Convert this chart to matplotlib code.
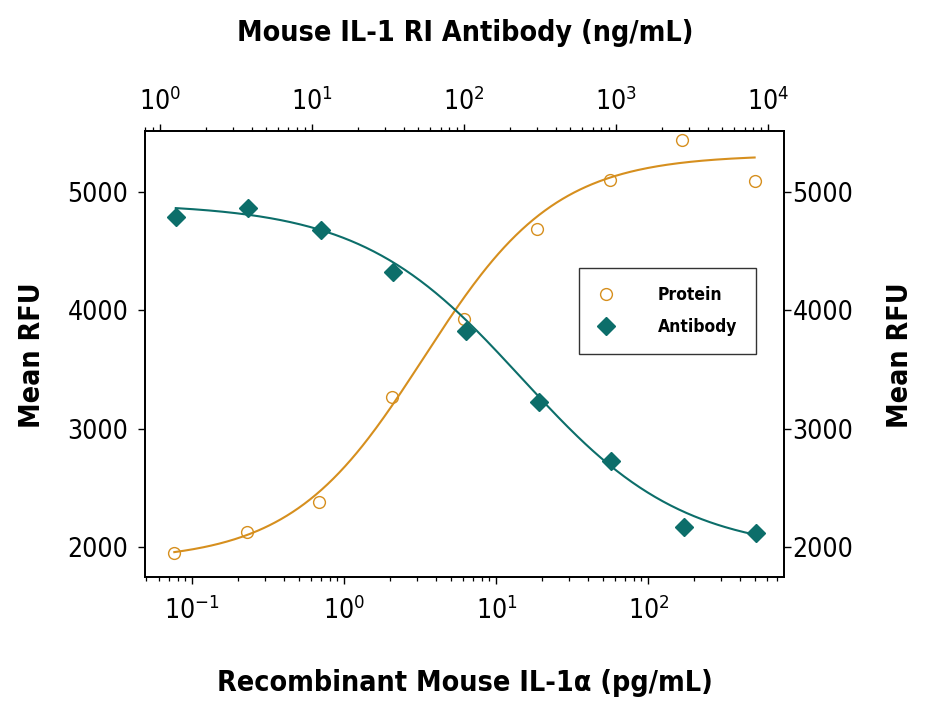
import numpy as np
import matplotlib
matplotlib.use("Agg")
import matplotlib.pyplot as plt
from matplotlib import font_manager as fm
from matplotlib.lines import Line2D

# ---------------- data ----------------
protein_conc = [0.0762, 0.229, 0.686, 2.06, 6.17, 18.5, 55.6, 167, 500]        # pg/mL (bottom axis)
protein_rfu = [1950, 2127, 2380, 3266, 3926, 4687, 5101, 5434, 5087]
antibody_conc = [1.27, 3.81, 11.4, 34.3, 103, 309, 926, 2778, 8333]          # ng/mL (top axis)
antibody_rfu = [4789, 4865, 4679, 4324, 3825, 3225, 2726, 2168, 2118]

# 4-parameter logistic fit parameters (bottom, top, EC50, hill)
protein_fit = (1880, 5310, 3.32, 1.0)
antibody_fit = (1950, 4900, 239, 0.82)

series_labels = ["Protein", "Antibody"]
y_ticks = [2000, 3000, 4000, 5000]
top_title = "Mouse IL-1 RI Antibody (ng/mL)"
bottom_title = "Recombinant Mouse IL-1\u03b1 (pg/mL)"
y_title = "Mean RFU"

ORANGE = "#D68F1E"
TEAL = "#0C6E6A"

# ---------------- font ----------------
def pick(cands):
    for name, stretch in cands:
        try:
            fm.findfont(fm.FontProperties(family=name, stretch=stretch), fallback_to_default=False)
            return name, stretch
        except Exception:
            continue
    return "DejaVu Sans", "condensed"

FAM, STR = pick([("Liberation Sans Narrow", "normal"), ("DejaVu Sans", "condensed")])
plt.rcParams["font.family"] = [FAM, "DejaVu Sans"]
plt.rcParams["font.stretch"] = STR
plt.rcParams["mathtext.fontset"] = "custom"
plt.rcParams["mathtext.rm"] = FAM
plt.rcParams["mathtext.it"] = FAM
plt.rcParams["mathtext.bf"] = FAM + ":bold"

def four_pl(x, b, t, c, h):
    x = np.asarray(x, float)
    return b + (t - b) / (1.0 + (c / x) ** h)

# ---------------- figure ----------------
fig = plt.figure(figsize=(9.29, 7.13), dpi=100)
ax = fig.add_axes([145 / 929, 1 - 577 / 713, 639 / 929, 446 / 713])
ax_top = ax.twiny()
ax_right = ax.twinx()

ax.set_xscale("log")
ax.set_xlim(0.0489, 780)
ax.set_ylim(1747, 5511)
ax_top.set_xscale("log")
ax_top.set_xlim(0.797, 12700)
ax_right.set_ylim(ax.get_ylim())

# curves
xp = np.logspace(np.log10(protein_conc[0]), np.log10(protein_conc[-1]), 300)
ax.plot(xp, four_pl(xp, *protein_fit), color=ORANGE, lw=1.5, zorder=2)
ax.plot(protein_conc, protein_rfu, linestyle="none", marker="o", ms=8.5,
        mfc="none", mec=ORANGE, mew=1.0, zorder=3)

xa = np.logspace(np.log10(antibody_conc[0]), np.log10(antibody_conc[-1]), 300)
b, t, c, h = antibody_fit
ax_top.plot(xa, b + (t - b) / (1.0 + (xa / c) ** h), color=TEAL, lw=1.5, zorder=2)
ax_top.plot(antibody_conc, antibody_rfu, linestyle="none", marker="D", ms=9.5,
            mfc=TEAL, mec=TEAL, zorder=3)

# ticks
for a in (ax, ax_top, ax_right):
    for s in a.spines.values():
        s.set_linewidth(1.1)
ax.set_yticks(y_ticks)
ax_right.set_yticks(y_ticks)
ax.tick_params(axis="x", which="major", direction="out", length=5, width=1.0,
               labelsize=19, pad=9, top=False)
ax.tick_params(axis="x", which="minor", direction="out", length=3, width=0.9, top=False)
ax.tick_params(axis="y", which="major", direction="out", length=5, width=1.0,
               labelsize=19, pad=7, right=False)
ax_top.tick_params(axis="x", which="major", direction="out", length=5, width=1.0,
                   labelsize=19, pad=6)
ax_top.tick_params(axis="x", which="minor", direction="out", length=3, width=0.9)
ax_right.tick_params(axis="y", which="major", direction="out", length=5, width=1.0,
                     labelsize=19, pad=1)
ax_right.tick_params(axis="y", which="minor", right=False)
ax.tick_params(axis="y", which="minor", left=False)

# axis titles
label_kw = dict(fontsize=20.5, fontweight="bold")
ax_top.set_xlabel(top_title, **label_kw)
ax_top.xaxis.set_label_coords(0.5008, 1.2197)
ax_top.xaxis.label.set_va("center")
ax.set_xlabel(bottom_title, **label_kw)
ax.xaxis.set_label_coords(0.5008, -0.2377)
ax.xaxis.label.set_va("center")
ax.set_ylabel(y_title, **label_kw)
ax.yaxis.set_label_coords(-0.1768, 0.498)
ax.yaxis.label.set_va("center")
ax_right.set_ylabel(y_title, **label_kw)
ax_right.yaxis.set_label_coords(1.1815, 0.498)
ax_right.yaxis.label.set_va("center")

# legend
handles = [
    Line2D([], [], linestyle="none", marker="o", ms=8.5, mfc="none", mec=ORANGE, mew=1.0),
    Line2D([], [], linestyle="none", marker="D", ms=9.5, mfc=TEAL, mec=TEAL),
]
leg = ax_right.legend(handles, series_labels, loc="upper left",
                      bbox_to_anchor=(0.679, 0.693), frameon=True, fancybox=False,
                      edgecolor="black", borderpad=1.05,
                      handletextpad=2.5, labelspacing=0.8, handlelength=1.0,
                      borderaxespad=0, prop={"weight": "bold", "size": 12.5})
leg.get_frame().set_linewidth(1.0)

fig.savefig("out.png", dpi=100)
